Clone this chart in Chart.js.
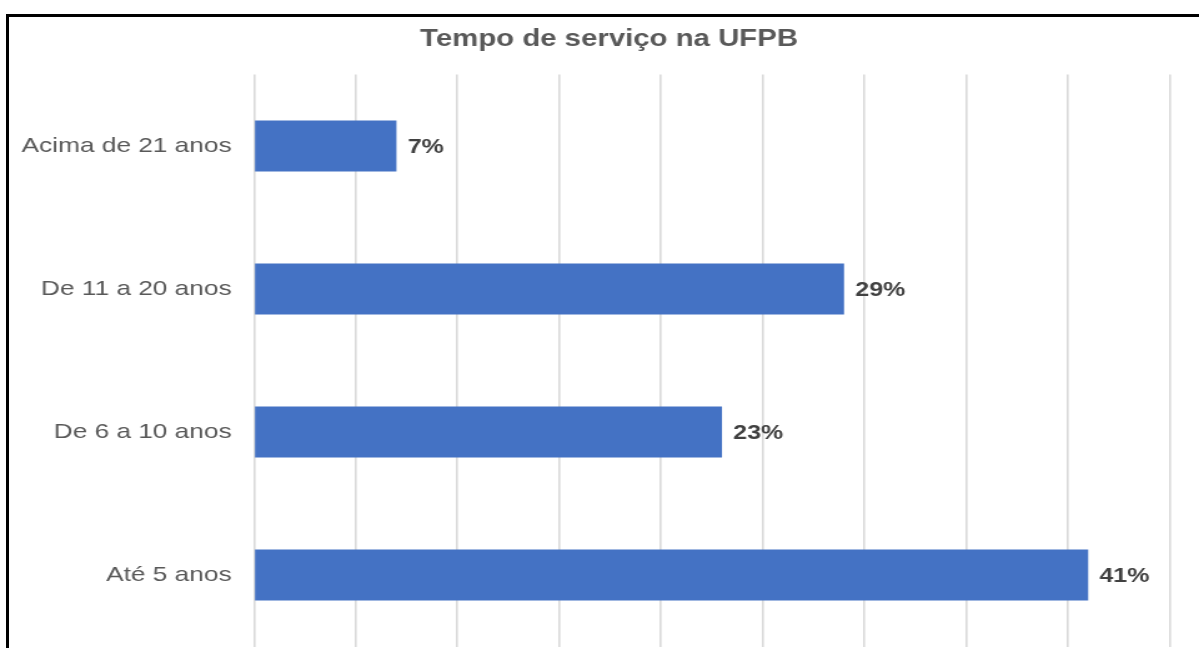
<!DOCTYPE html>
<html>
<head>
<meta charset="utf-8">
<script src="https://cdn.jsdelivr.net/npm/chart.js@4/dist/chart.umd.min.js"></script>
<style>
  html, body { margin: 0; padding: 0; background: #fff; overflow: hidden; }
  body { width: 1199px; height: 648px; position: relative; }
  #frame { position: absolute; left: 6px; top: 14px; right: 0; bottom: -10px;
           border-top: 3px solid #000; border-left: 3px solid #000; pointer-events: none; z-index: 2; }
  #wrap { position: absolute; left: 0; top: 0; width: 960px; height: 648px;
          transform: scaleX(1.249); transform-origin: 0 0; }
</style>
</head>
<body>
<div id="wrap"><canvas id="c"></canvas></div>
<div id="frame"></div>
<script>
const titleText = "Tempo de serviço na UFPB";
const categories = ["Acima de 21 anos", "De 11 a 20 anos", "De 6 a 10 anos", "Até 5 anos"];
const percentValues = [7, 29, 23, 41];
const axisMax = 45;
const axisStep = 5;

const FONT = "'Liberation Sans', Arial, Helvetica, sans-serif";

const titleDraw = {
  id: 'titleDraw',
  afterDraw(chart) {
    const ctx = chart.ctx;
    ctx.save();
    ctx.font = "bold 23.5px " + FONT;
    ctx.fillStyle = '#595959';
    ctx.textAlign = 'center';
    ctx.textBaseline = 'middle';
    ctx.fillText(titleText, 487.6, 40);
    ctx.restore();
  }
};

const valueLabels = {
  id: 'valueLabels',
  afterDatasetsDraw(chart) {
    const ctx = chart.ctx;
    const meta = chart.getDatasetMeta(0);
    ctx.save();
    ctx.font = "bold 20px " + FONT;
    ctx.fillStyle = '#404040';
    ctx.textAlign = 'left';
    ctx.textBaseline = 'middle';
    meta.data.forEach((bar, i) => {
      ctx.fillText(percentValues[i] + '%', bar.x + 9, bar.y + 1);
    });
    ctx.restore();
  }
};

new Chart(document.getElementById('c'), {
  type: 'bar',
  data: {
    labels: categories,
    datasets: [{
      data: percentValues,
      backgroundColor: '#4472C4',
      borderWidth: 0,
      barPercentage: 0.357,
      categoryPercentage: 1
    }]
  },
  options: {
    indexAxis: 'y',
    responsive: true,
    maintainAspectRatio: false,
    animation: false,
    layout: { padding: { left: 0, right: 23.6, top: 74.5, bottom: 1.5 } },
    plugins: {
      legend: { display: false },
      tooltip: { enabled: false },
      title: { display: false }
    },
    scales: {
      x: {
        min: 0,
        max: axisMax,
        ticks: { display: false, stepSize: axisStep },
        grid: { display: true, color: '#d9d9d9', lineWidth: 1.6, drawTicks: false },
        border: { display: false },
        afterFit(scale) { scale.height = 0; }
      },
      y: {
        ticks: { color: '#595959', font: { family: FONT, size: 21 }, padding: 10 },
        grid: { display: false },
        border: { display: false },
        afterFit(scale) { scale.width = 203.4; scale.paddingTop = 0; scale.paddingBottom = 0; }
      }
    }
  },
  plugins: [valueLabels, titleDraw]
});
</script>
</body>
</html>
